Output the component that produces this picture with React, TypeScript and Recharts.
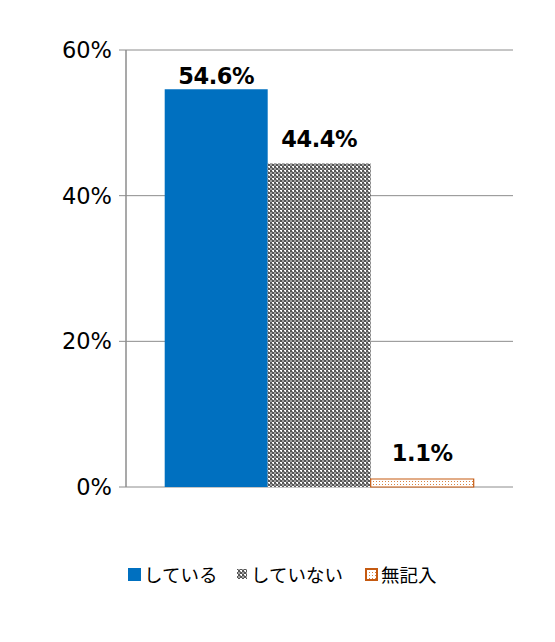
import React from "react";
import { BarChart, Bar, XAxis, YAxis, CartesianGrid, LabelList } from "recharts";

const categories = [""];
const seriesNames = ["している", "していない", "無記入"];
const seriesValues = [54.6, 44.4, 1.1];
const yTicks = [0, 20, 40, 60];
const labelOffsets = [5, 17, 18];

const data = categories.map((c) => {
  const row: Record<string, string | number> = { name: c };
  seriesNames.forEach((s, i) => {
    row[s] = seriesValues[i];
  });
  return row;
});

const fills = ["#0070C0", "url(#grayCheck)", "url(#orangeDots)"];
const strokes = ["none", "none", "#C55A11"];

const GrayPattern = ({ id }: { id: string }) => (
  <pattern id={id} width="4" height="4" patternUnits="userSpaceOnUse">
    <rect x="0" y="0" width="4" height="4" fill="#ffffff" />
    <rect x="0" y="0" width="2" height="2" fill="#555555" />
    <rect x="2" y="2" width="2" height="2" fill="#555555" />
    <rect x="2" y="0" width="2" height="2" fill="#a0a0a0" />
    <rect x="0" y="3" width="1" height="1" fill="#a0a0a0" />
  </pattern>
);

const OrangePattern = ({ id }: { id: string }) => (
  <pattern id={id} width="3" height="3" patternUnits="userSpaceOnUse">
    <rect x="0" y="0" width="3" height="3" fill="#ffffff" />
    <rect x="1" y="1" width="1" height="1" fill="#D9823F" />
  </pattern>
);

const legendFont = "'Noto Sans CJK JP', 'Noto Sans', sans-serif";

export default function App() {
  return (
    <div
      style={{
        position: "relative",
        width: 555,
        height: 642,
        marginLeft: -8,
        marginTop: -8,
        overflow: "hidden",
        background: "#fff",
      }}
    >
      <div
        style={{
          position: "absolute",
          left: 7,
          top: 2,
          width: 600,
          height: 700,
          borderLeft: "1px solid #b5b5b5",
          borderTop: "1px solid #b5b5b5",
        }}
      />
      <div style={{ position: "absolute", left: 0, top: 0 }}>
        <BarChart
          width={555}
          height={642}
          data={data}
          margin={{ top: 50, right: 42, left: 0, bottom: 155 }}
          barCategoryGap="10%"
          barGap={0}
        >
          <defs>
            <GrayPattern id="grayCheck" />
            <OrangePattern id="orangeDots" />
          </defs>
          <CartesianGrid vertical={false} stroke="#8c8c8c" strokeWidth={1} />
          <XAxis
            dataKey="name"
            height={0}
            tick={false}
            tickLine={false}
            axisLine={{ stroke: "#8c8c8c", strokeWidth: 1.5 }}
          />
          <YAxis
            width={126}
            domain={[0, 60]}
            ticks={yTicks}
            interval={0}
            tickFormatter={(v: number) => `${v}%`}
            tick={{ fill: "#000", fontSize: 22.5, fontFamily: "'DejaVu Sans', sans-serif" }}
            tickSize={7}
            tickMargin={7}
            tickLine={{ stroke: "#8c8c8c" }}
            axisLine={{ stroke: "#8c8c8c", strokeWidth: 1.5 }}
          />
          {seriesNames.map((s, i) => (
            <Bar
              key={s}
              dataKey={s}
              fill={fills[i]}
              stroke={strokes[i]}
              strokeWidth={strokes[i] === "none" ? 0 : 1.2}
              isAnimationActive={false}
            >
              <LabelList
                dataKey={s}
                position="top"
                offset={labelOffsets[i]}
                formatter={(v: number) => `${v.toFixed(1)}%`}
                fill="#000"
                fontSize={22.5}
                fontWeight="bold"
                fontFamily="'DejaVu Sans', sans-serif"
                letterSpacing={-0.4}
              />
            </Bar>
          ))}
        </BarChart>
      </div>
      {seriesNames.map((name, i) => {
        const lefts = [128, 236, 365];
        const sizes = [13, 12, 13];
        const size = sizes[i];
        return (
          <div
            key={name}
            style={{
              position: "absolute",
              left: lefts[i],
              top: 562,
              height: 24,
              display: "flex",
              alignItems: "center",
              fontFamily: legendFont,
              fontSize: 18.5,
              color: "#000",
              whiteSpace: "nowrap",
            }}
          >
            <svg width={size} height={size} style={{ marginRight: 3, display: "block" }}>
              <defs>
                <GrayPattern id={`lg-gray-${i}`} />
                <OrangePattern id={`lg-orange-${i}`} />
              </defs>
              {i === 0 && <rect x={0} y={0} width={size} height={size} fill="#0070C0" />}
              {i === 1 && (
                <rect x={1} y={1} width={size - 2} height={size - 2} fill={`url(#lg-gray-${i})`} />
              )}
              {i === 2 && (
                <rect
                  x={1}
                  y={1}
                  width={size - 2}
                  height={size - 2}
                  fill={`url(#lg-orange-${i})`}
                  stroke="#C55A11"
                  strokeWidth={2}
                />
              )}
            </svg>
            <span>{name}</span>
          </div>
        );
      })}
    </div>
  );
}
